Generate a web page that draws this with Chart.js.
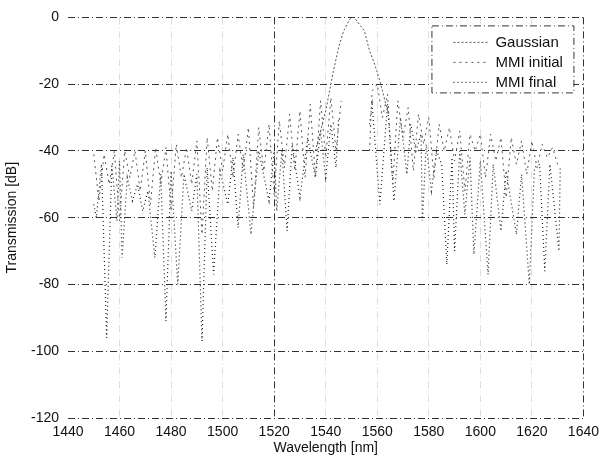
<!DOCTYPE html>
<html>
<head>
<meta charset="utf-8">
<script src="https://cdn.jsdelivr.net/npm/chart.js@4.4.1/dist/chart.umd.min.js"></script>
<style>
  html, body { margin: 0; padding: 0; background: #fff; }
  #wrap { width: 605px; height: 461px; }
</style>
</head>
<body>
<div id="wrap"><canvas id="chart" width="605" height="461"></canvas></div>
<script>
// axis ticks
const xTicks = [1440, 1460, 1480, 1500, 1520, 1540, 1560, 1580, 1600, 1620, 1640];
const yTicks = [-120, -100, -80, -60, -40, -20, 0];

// Gaussian filter response
const gaussX = [1536, 1540, 1543, 1545, 1547, 1549, 1550, 1551, 1553, 1555, 1557, 1559, 1561, 1564];
const gaussY = [-40, -28, -16, -9, -4, -1, 0, 0, -2, -4, -10, -14, -19, -28];

// MMI initial (upper sidelobes), null breaks the line around the passband
const mmiInitialX = [1450, 1452, 1454, 1456, 1458, 1460, 1462, 1464, 1466, 1468, 1470, 1472, 1474, 1476, 1478, 1480,
  1482, 1484, 1486, 1488, 1490, 1492, 1494, 1496, 1498, 1500, 1502, 1504, 1506, 1508, 1510, 1512, 1514, 1516, 1518,
  1520, 1522, 1524, 1526, 1528, 1530, 1532, 1534, 1536, 1538, 1540, 1542, 1544, 1546,
  1550,
  1557, 1558, 1560, 1562, 1564, 1566, 1568, 1570, 1572, 1574, 1576, 1578, 1580, 1582, 1584, 1586, 1588, 1590, 1592,
  1594, 1596, 1598, 1600, 1602, 1604, 1606, 1608, 1610, 1612, 1614, 1616, 1618, 1620, 1622, 1624, 1626, 1628, 1630];
const mmiInitialY = [-41, -55, -41, -50, -40, -61, -40, -48, -40, -52, -40, -56, -39, -50, -39, -58,
  -38, -48, -39, -50, -37, -65, -36, -52, -36, -46, -35, -48, -35, -46, -33, -57, -33, -46, -32,
  -53, -31, -45, -29, -46, -28, -48, -26, -48, -25, -42, -24, -40, -25,
  null,
  -40, -22, -20, -30, -23, -50, -25, -36, -27, -46, -29, -38, -30, -48, -32, -40, -33, -43, -34,
  -52, -35, -40, -35, -48, -35, -43, -36, -54, -36, -44, -37, -47, -37, -45, -38, -42, -39, -44];

// MMI final (lower sidelobes with deep nulls)
const mmiFinalX = [1450, 1451, 1453, 1455, 1457, 1459, 1460, 1461, 1463, 1465, 1467, 1469, 1471, 1473.7, 1476, 1478,
  1480, 1482.6, 1485, 1488, 1490, 1492, 1494, 1496.5, 1499, 1502, 1504, 1506, 1508, 1511, 1514, 1518, 1520, 1521,
  1523, 1525, 1527, 1530, 1533, 1536, 1538, 1540, 1542, 1544, 1545,
  1550,
  1557, 1558, 1561, 1564, 1566.5, 1569, 1571.5, 1573, 1575, 1577, 1577.5, 1579, 1581, 1583, 1585, 1587, 1589, 1590,
  1592, 1594, 1596, 1597.5, 1600, 1603, 1605, 1608, 1610, 1614, 1616, 1619, 1621, 1623, 1625, 1627, 1630.5, 1631];
const mmiFinalY = [-56, -60, -44, -96, -44, -61, -43, -72, -48, -55, -50, -58, -52, -72, -47, -91,
  -46, -80, -47, -58, -47, -97, -45, -77, -46, -56, -42, -63, -41, -65, -40, -55, -40, -58,
  -40, -64, -38, -54, -36, -48, -34, -48, -32, -45, -30,
  null,
  -32, -26, -56, -26, -55, -30, -47, -32, -40, -35, -61, -38, -52, -40, -44, -74, -42, -70,
  -40, -59, -42, -71, -43, -77, -44, -64, -46, -65, -47, -80, -45, -44, -76, -44, -70, -45];

function toPoints(xs, ys) {
  return xs.map((x, i) => ({ x: x, y: ys[i] }));
}

const dashDot = [7, 3, 1, 3];
const font = '"Liberation Sans", Arial, sans-serif';

// legend box in the top-right corner of the plot
const boxLegend = {
  id: 'boxLegend',
  afterDatasetsDraw(chart) {
    const ctx = chart.ctx;
    const area = chart.chartArea;
    const left = area.right - 152;
    const top = area.top + 8;
    ctx.save();
    ctx.fillStyle = '#fff';
    ctx.fillRect(left, top, 142, 67);
    ctx.setLineDash(dashDot);
    ctx.strokeStyle = '#333';
    ctx.lineWidth = 1;
    ctx.strokeRect(left + 0.5, top + 0.5, 142, 67);

    ctx.font = '15px ' + font;
    ctx.textBaseline = 'middle';
    chart.data.datasets.forEach((ds, i) => {
      const y = top + 17 + i * 20;
      ctx.setLineDash(ds.borderDash || []);
      ctx.strokeStyle = ds.borderColor;
      ctx.lineWidth = ds.borderWidth;
      ctx.beginPath();
      ctx.moveTo(left + 22, y);
      ctx.lineTo(left + 58, y);
      ctx.stroke();
      ctx.setLineDash([]);
      ctx.fillStyle = '#111';
      ctx.fillText(ds.label, left + 64, y);
    });
    ctx.restore();
  }
};

Chart.defaults.font.family = font;
Chart.defaults.font.size = 14;
Chart.defaults.color = '#111';

new Chart(document.getElementById('chart').getContext('2d'), {
  type: 'line',
  data: {
    datasets: [{
      label: 'Gaussian',
      data: toPoints(gaussX, gaussY),
      borderColor: '#555',
      borderWidth: 1,
      borderDash: [2, 2],
    }, {
      label: 'MMI initial',
      data: toPoints(mmiInitialX, mmiInitialY),
      borderColor: '#555',
      borderWidth: 1,
      borderDash: [2, 4],
    }, {
      label: 'MMI final',
      data: toPoints(mmiFinalX, mmiFinalY),
      borderColor: '#222',
      borderWidth: 1.2,
      borderDash: [1, 3],
    }]
  },
  options: {
    responsive: false,
    animation: false,
    devicePixelRatio: 1,
    spanGaps: false,
    elements: {
      point: { radius: 0 },
      line: { tension: 0 }
    },
    layout: {
      padding: { top: 13, right: 18, left: 0, bottom: 0 }
    },
    plugins: {
      legend: { display: false },
      tooltip: { enabled: false }
    },
    scales: {
      x: {
        type: 'linear',
        min: 1440,
        max: 1640,
        afterBuildTicks: (scale) => { scale.ticks = xTicks.map(v => ({ value: v })); },
        afterFit: (scale) => { scale.height = 43; },
        ticks: { padding: 6, maxRotation: 0, autoSkip: false, callback: (v) => String(v) },
        border: { display: false, dash: dashDot },
        grid: {
          drawTicks: false,
          lineWidth: 1,
          color: (c) => {
            const v = c.tick && c.tick.value;
            if (v === 1440) return 'rgba(0,0,0,0)';
            if (v === 1520 || v === 1640) return '#333';
            return '#ddd';
          }
        },
        title: {
          display: true,
          text: 'Wavelength [nm]',
          padding: { top: 0, bottom: 4 }
        }
      },
      y: {
        min: -120,
        max: 0,
        afterBuildTicks: (scale) => { scale.ticks = yTicks.map(v => ({ value: v })); },
        afterFit: (scale) => { scale.width = 68; },
        ticks: { padding: 9, callback: (v) => String(v) },
        border: { display: false, dash: dashDot },
        grid: {
          drawTicks: false,
          lineWidth: 1,
          color: '#333'
        },
        title: {
          display: true,
          text: 'Transmission [dB]',
          padding: { top: 4, bottom: 0 }
        }
      }
    }
  },
  plugins: [boxLegend]
});
</script>
</body>
</html>
